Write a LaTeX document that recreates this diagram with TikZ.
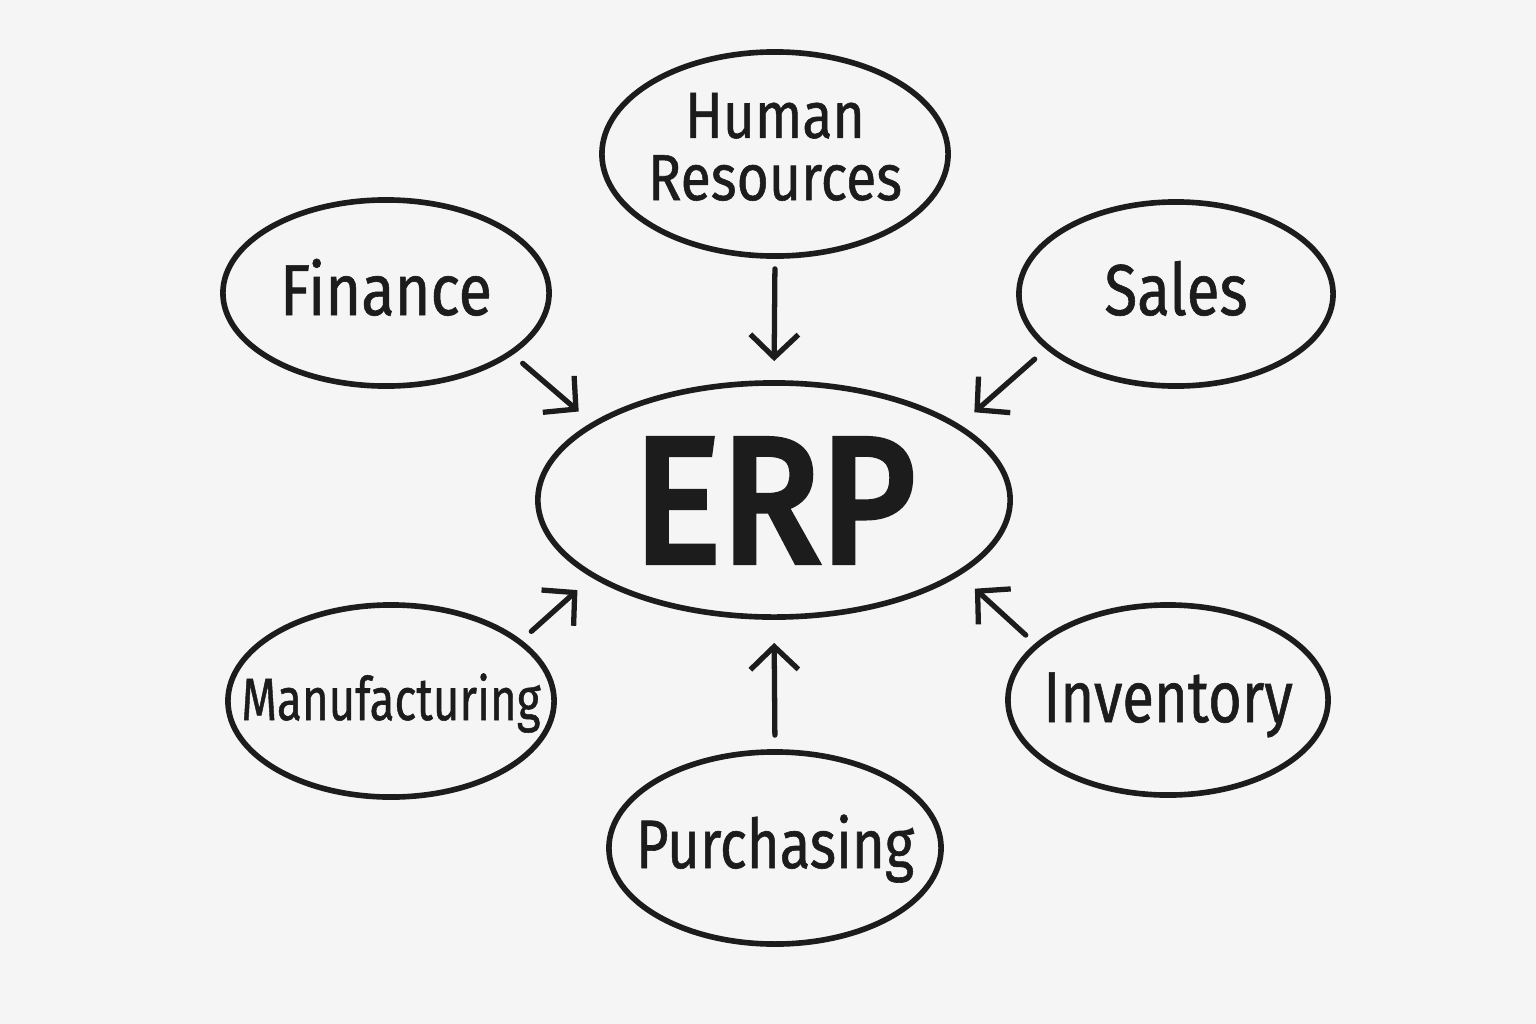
\documentclass[tikz,border=0pt]{standalone}
\usepackage{fontspec}
\setmainfont{Fira Sans}
\newfontfamily\handfont{Fira Sans}[FakeBold=0.9]
\newfontfamily\erpfont{Fira Sans}[FakeBold=4.5]
\usetikzlibrary{shapes.geometric,arrows.meta}
\definecolor{bg}{RGB}{245,245,245}
\definecolor{ink}{RGB}{28,28,28}
\newcommand{\lbl}[3][0.84]{\smash{\raisebox{-#2}{\makebox[0pt]{\scalebox{#1}[1]{\begin{tabular}[b]{@{}c@{}}#3\end{tabular}}}}}}
\begin{document}
\begin{tikzpicture}[x=0.01cm,y=-0.01cm,
  bubble/.style={ellipse,draw=ink,line width=1.6pt,inner sep=0pt,text=ink},
  arr/.style={draw=ink,line width=1.5pt,line cap=round,-{Straight Barb[length=0.23cm,width=0.48cm,line width=1.5pt]}}]
\fill[bg] (0,0) rectangle (1536,1024);
\useasboundingbox (0,0) rectangle (1536,1024);
\node[bubble,minimum width=4.72cm,minimum height=2.34cm,font=\erpfont\fontsize{50}{50}\selectfont] (erp) at (774,500) {\lbl[0.93]{0.61cm}{ERP}};
\node[bubble,minimum width=3.46cm,minimum height=2.04cm,font=\handfont\fontsize{18.5}{16.5}\selectfont] (hr) at (775,154) {\lbl[0.85]{0.46cm}{Human\\Resources}};
\node[bubble,minimum width=3.26cm,minimum height=1.86cm,font=\handfont\fontsize{20.5}{20}\selectfont] (fin) at (386,293) {\lbl[0.85]{0.22cm}{Finance}};
\node[bubble,minimum width=3.14cm,minimum height=1.84cm,font=\handfont\fontsize{20.5}{20}\selectfont] (sales) at (1176,294) {\lbl[0.835]{0.21cm}{Sales}};
\node[bubble,minimum width=3.26cm,minimum height=1.92cm,font=\handfont\fontsize{17}{17}\selectfont] (man) at (391,701) {\lbl[0.765]{0.19cm}{Manufacturing}};
\node[bubble,minimum width=3.20cm,minimum height=1.90cm,font=\handfont\fontsize{20.5}{20}\selectfont] (inv) at (1168,700) {\lbl[0.805]{0.22cm}{Inventory}};
\node[bubble,minimum width=3.32cm,minimum height=1.92cm,font=\handfont\fontsize{19.5}{19}\selectfont] (pur) at (775,848) {\lbl[0.82]{0.20cm}{Purchasing}};
\draw[arr,shorten <=0.10cm,shorten >=0.19cm] (hr.south) -- (erp.north);
\draw[arr,shorten <=0.13cm,shorten >=0.17cm] (fin.-26) -- (erp.157.5);
\draw[arr,shorten <=0.15cm,shorten >=0.19cm] (sales.203.4) -- (erp.22.5);
\draw[arr,shorten <=0.13cm,shorten >=0.19cm] (man.25.7) -- (erp.203);
\draw[arr,shorten <=0.125cm,shorten >=0.20cm] (inv.157.2) -- (erp.-22.6);
\draw[arr,shorten <=0.14cm,shorten >=0.23cm] (pur.north) -- (erp.south);
\end{tikzpicture}
\end{document}
